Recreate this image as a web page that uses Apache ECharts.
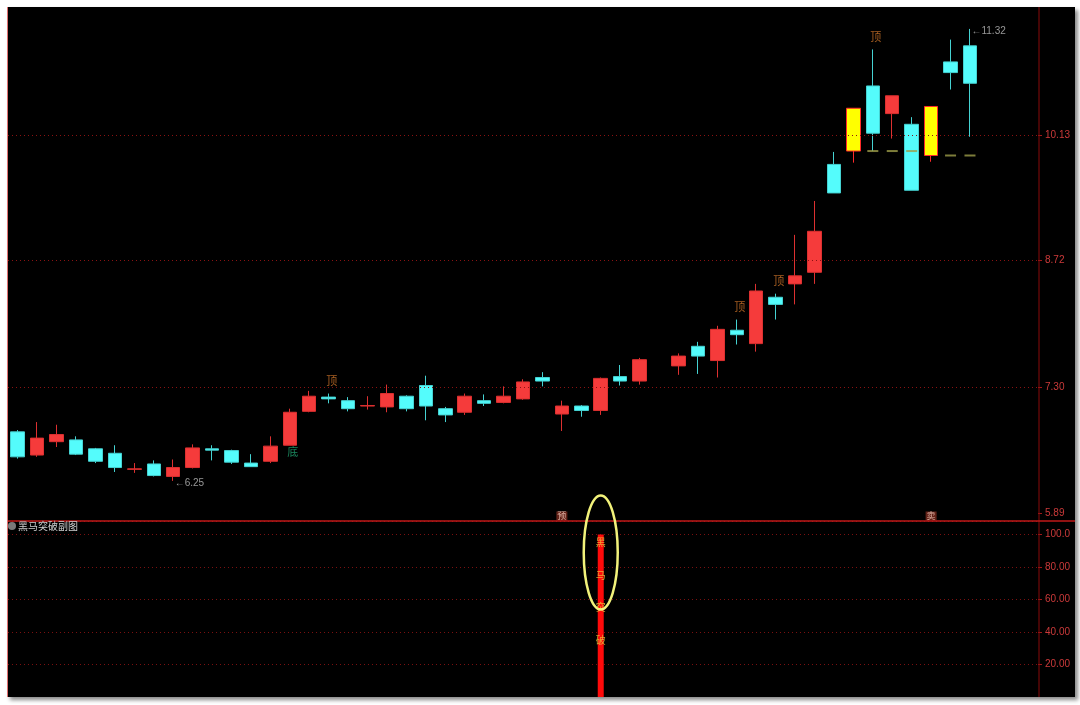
<!DOCTYPE html>
<html><head><meta charset="utf-8">
<script src="https://cdn.jsdelivr.net/npm/echarts@6/dist/echarts.min.js"></script>
<style>
html,body{margin:0;padding:0;background:#fff;width:1080px;height:705px;overflow:hidden;}
#frame{position:absolute;left:7px;top:7px;width:1067px;height:690px;background:#000;border-left:1px solid #e07070;box-shadow:3px 3px 4px #8a8a8a;}
#chart{width:1067px;height:690px;}
</style></head><body><div id="frame"><div id="chart"></div></div>
<script>
// ---- data ----
const categories = Array.from({length: 53}, (_, i) => 'D' + (i + 1));
const opens  = [6.80,6.54,6.69,6.71,6.61,6.56,6.38,6.44,6.30,6.40, 6.61,6.59,6.45,6.47,6.65,7.03,7.19,7.15,7.09,7.08, 7.20,7.32,7.06,7.02,7.15,7.13,7.17,7.41,7.00,7.09, 7.04,7.42,7.37,null,7.54,7.76,7.60,7.94,7.79,8.31, 8.46,8.59,9.80,9.95,10.68,10.37,10.25,9.90,10.95,11.13];
const closes = [6.52,6.73,6.77,6.55,6.47,6.40,6.385,6.31,6.40,6.62, 6.595,6.46,6.41,6.64,7.02,7.20,7.17,7.06,7.095,7.23, 7.06,7.09,6.99,7.20,7.12,7.20,7.36,7.37,7.09,7.04, 7.40,7.37,7.61,null,7.65,7.65,7.95,7.89,8.38,8.23, 8.55,9.05,9.48,10.43,10.15,10.57,9.51,10.45,10.83,10.71];
const lows   = [6.50,6.52,6.63,6.54,6.45,6.35,6.34,6.30,6.25,6.39, 6.48,6.44,6.41,6.45,6.65,7.02,7.12,7.03,7.05,7.02, 7.03,6.93,6.91,6.99,7.09,7.12,7.16,7.31,6.81,6.97, 6.99,7.32,7.33,null,7.44,7.45,7.41,7.78,7.70,8.06, 8.23,8.46,9.48,9.82,9.95,10.09,9.51,9.83,10.64,10.11];
const highs  = [6.82,6.91,6.88,6.75,6.62,6.65,6.45,6.48,6.49,6.66, 6.65,6.60,6.55,6.75,7.06,7.26,7.23,7.19,7.20,7.33, 7.21,7.43,7.08,7.23,7.22,7.31,7.39,7.47,7.15,7.10, 7.41,7.55,7.63,null,7.68,7.81,7.99,8.06,8.46,8.35, 9.01,9.39,9.94,10.43,11.09,10.57,10.33,10.45,11.20,11.32];
const yellowIdx = [43, 47];
const priceTicks = [5.89, 7.30, 8.72, 10.13];
const oscTicks = [20, 40, 60, 80, 100];
const breakout = [0,0,0,0,0,0,0,0,0,0, 0,0,0,0,0,0,0,0,0,0, 0,0,0,0,0,0,0,0,0,0, 100,0,0,0,0,0,0,0,0,0, 0,0,0,0,0,0,0,0,0,0];
const breakoutText = ['黑', '马', '突', '破'];
const breakoutTextVals = [95, 75, 55, 35];
const topSignalIdx = [16, 37, 39, 44];
const bottomSignalIdx = [14];
const warnIdx = [28, 47];
const warnText = ['预', '卖'];
const supportIdx = [44, 45, 46, 48, 49];
const supportVals = [9.95, 9.95, 9.95, 9.90, 9.90];
const lowMarkIdx = 8, highMarkIdx = 49;

// ---- build ----
const candleData = opens.map((o, i) => {
  if (o === null) return '-';
  const item = {value: [o, closes[i], lows[i], highs[i]]};
  if (yellowIdx.includes(i)) item.itemStyle = {color: '#ffff00', borderColor: '#ff2a2a', color0: '#ffff00', borderColor0: '#ff2a2a'};
  return item;
});

const chart = echarts.init(document.getElementById('chart'), null, {renderer: 'canvas'});
const axisFont = {color: '#cc3a3a', fontSize: 10, fontFamily: 'Liberation Sans, Arial, sans-serif'};
const cjk = 'Noto Sans CJK SC, sans-serif';
const AX = 1031; // right edge of plot (chart coords)
const hidden = {color: 'rgba(0,0,0,0)'};

const option = {
  backgroundColor: '#000',
  animation: false,
  grid: [
    {left: -2, right: 37, top: 2, height: 504},
    {left: -2, right: 37, top: 514.5, height: 175.5}
  ],
  xAxis: [
    {type: 'category', gridIndex: 0, data: categories, boundaryGap: true, axisLine: {show: false}, axisTick: {show: false}, axisLabel: {show: false}, splitLine: {show: false}},
    {type: 'category', gridIndex: 1, data: categories, boundaryGap: true, axisLine: {show: false}, axisTick: {show: false}, axisLabel: {show: false}, splitLine: {show: false}}
  ],
  yAxis: [
    {type: 'value', gridIndex: 0, position: 'right', min: 5.89, max: 11.5433, scale: true,
     axisLine: {show: false},
     axisTick: {show: true, length: 4, lineStyle: {color: '#a01818'}, customValues: priceTicks},
     axisLabel: Object.assign({margin: 7, customValues: priceTicks, formatter: v => Number(v).toFixed(2)}, axisFont),
     splitLine: {show: false}},
    {type: 'value', gridIndex: 1, position: 'right', min: 0, max: 108, interval: 20,
     axisLine: {show: false},
     axisTick: {show: true, length: 4, lineStyle: {color: '#a01818'}},
     axisLabel: Object.assign({margin: 7, showMinLabel: false, showMaxLabel: false,
       formatter: v => v >= 100 ? v.toFixed(1) : v.toFixed(2)}, axisFont),
     splitLine: {show: true, lineStyle: {color: '#7a1010', type: [1, 3], width: 1}}}
  ],
  series: [
    {type: 'candlestick', xAxisIndex: 0, yAxisIndex: 0, barWidth: 14, data: candleData,
     itemStyle: {color: '#f53b3b', color0: '#54fcfc', borderColor: '#dd3030', borderColor0: '#45d2d2', borderWidth: 1},
     markLine: {silent: true, symbol: 'none', label: {show: false}, animation: false,
       lineStyle: {color: '#8a1212', type: [1, 3], width: 1},
       data: priceTicks.slice(1).map(v => ({yAxis: v}))}},
    {type: 'scatter', xAxisIndex: 0, yAxisIndex: 0, symbol: 'rect', symbolSize: [11, 2], z: 5,
     itemStyle: {color: '#9c9c48'},
     data: supportIdx.map((x, k) => [x, supportVals[k]])},
    {type: 'scatter', xAxisIndex: 0, yAxisIndex: 0, symbol: 'circle', symbolSize: 1, itemStyle: hidden, z: 6,
     data: topSignalIdx.map(i => [i, highs[i]]),
     label: {show: true, position: 'top', distance: 7, offset: [3, 0], formatter: '顶', color: '#d4782a', fontSize: 11, fontFamily: cjk}},
    {type: 'scatter', xAxisIndex: 0, yAxisIndex: 0, symbol: 'circle', symbolSize: 1, itemStyle: hidden, z: 6,
     data: bottomSignalIdx.map(i => [i, lows[i]]),
     label: {show: true, position: 'bottom', distance: 1, offset: [3, 0], formatter: '底', color: '#22a874', fontSize: 11, fontFamily: cjk}},
    {type: 'scatter', xAxisIndex: 0, yAxisIndex: 0, symbol: 'circle', symbolSize: 1, itemStyle: hidden, z: 6,
     data: [[lowMarkIdx, lows[lowMarkIdx]], [highMarkIdx, highs[highMarkIdx]]],
     label: {show: true, position: 'right', distance: 1, offset: [0, 2], color: '#bdbdbd', fontSize: 10, fontFamily: 'Liberation Sans, Arial, sans-serif',
       formatter: p => '←' + p.value[1].toFixed(2)}},
    {type: 'scatter', xAxisIndex: 0, yAxisIndex: 0, symbol: 'circle', symbolSize: 1, itemStyle: hidden, z: 6, clip: false,
     data: warnIdx.map(i => [i, 5.89]),
     label: {show: true, position: 'inside', offset: [0, 3], color: '#f8d0c0', fontSize: 9, fontFamily: cjk,
       backgroundColor: '#7c2a1e', padding: [0, 1], formatter: p => warnText[p.dataIndex]}},
    {type: 'bar', xAxisIndex: 1, yAxisIndex: 1, barWidth: 6, data: breakout,
     itemStyle: {color: '#ff0a0a'}},
    {type: 'scatter', xAxisIndex: 1, yAxisIndex: 1, symbol: 'circle', symbolSize: 1, itemStyle: hidden, z: 6,
     data: breakoutTextVals.map(v => [30, v]),
     label: {show: true, position: 'inside', color: '#e8cf3c', fontSize: 10, fontFamily: cjk,
       formatter: p => breakoutText[p.dataIndex]}}
  ]
};
chart.setOption(option);

const p100 = chart.convertToPixel({gridIndex: 1}, [30, 100]);
chart.setOption({
  graphic: [
    {type: 'line', shape: {x1: AX, y1: 0, x2: AX, y2: 690}, style: {stroke: '#8a0a0a', lineWidth: 1}, z: 50},
    {type: 'line', shape: {x1: 0, y1: 514, x2: 1067, y2: 514}, style: {stroke: '#c01818', lineWidth: 1.5}, z: 50},
    {type: 'circle', shape: {cx: 4, cy: 519, r: 4}, style: {fill: '#7a7a7a'}, z: 50},
    {type: 'text', x: 10, y: 519, style: {text: '黑马突破副图', fill: '#cfcfcf', font: '10px ' + cjk, verticalAlign: 'middle'}, z: 50},
    {type: 'ellipse', shape: {cx: p100[0], cy: p100[1] + 18, rx: 17, ry: 57}, style: {fill: 'none', stroke: '#f2f27a', lineWidth: 2.5}, z: 60}
  ]
});
</script></body></html>
